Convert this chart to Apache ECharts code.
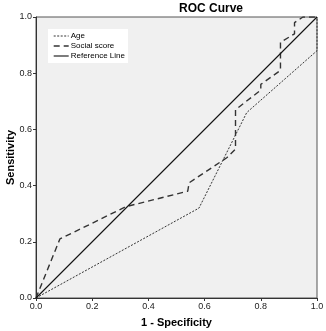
<!DOCTYPE html>
<html><head><meta charset="utf-8">
<script src="https://cdn.jsdelivr.net/npm/echarts@6/dist/echarts.min.js"></script>
<style>html,body{margin:0;padding:0;background:#fff}#c{width:326px;height:331px}</style>
</head><body><div id="c"></div>
<script>
var title = 'ROC Curve';
var xName = '1 - Specificity';
var yName = 'Sensitivity';
var ticks = [0, 0.2, 0.4, 0.6, 0.8, 1.0];
var ageX = [0, 0.58, 0.75, 1.0, 1.0];
var ageY = [0, 0.32, 0.66, 0.88, 1.0];
var socialX = [0, 0.085, 0.32, 0.54, 0.545, 0.68, 0.71, 0.71, 0.80, 0.80, 0.87, 0.87, 0.92, 0.92, 0.95, 1.0];
var socialY = [0, 0.21, 0.325, 0.38, 0.41, 0.50, 0.53, 0.67, 0.74, 0.76, 0.81, 0.91, 0.94, 0.98, 1.0, 1.0];
var refX = [0, 1];
var refY = [0, 1];
function pairs(xs, ys){ return xs.map(function(x,i){ return [x, ys[i]]; }); }

var ageLine = {color: '#333', width: 1, type: [2, 1.5]};
var socialLine = {color: '#333', width: 1.4, type: [6, 4]};
var refLine = {color: '#111', width: 1.1, type: 'solid'};

var chart = echarts.init(document.getElementById('c'), null, {renderer:'canvas'});
var fontFam = 'Liberation Sans, Arial, sans-serif';
chart.setOption({
  animation: false,
  backgroundColor: '#fff',
  textStyle: {fontFamily: fontFam},
  title: {text: title, left: 179, top: 3, padding: 0, textStyle: {fontSize: 12, fontWeight: 'bold', color: '#000', fontFamily: fontFam}},
  grid: {left: 36, right: 9, top: 17, bottom: 33, outerBoundsMode: 'none', containLabel: false,
         show: true, backgroundColor: '#f0f0f0', borderColor: '#555', borderWidth: 1},
  legend: {
    orient: 'vertical', left: 48, top: 29, backgroundColor: '#fff',
    padding: [3, 3, 3, 5], itemWidth: 15, itemHeight: 8, itemGap: 2,
    itemStyle: {opacity: 0, borderWidth: 0},
    textStyle: {fontSize: 8, color: '#000', fontFamily: fontFam, padding: [0,0,0,-3]},
    data: [
      {name: 'Age', lineStyle: ageLine},
      {name: 'Social score', lineStyle: socialLine},
      {name: 'Reference Line', lineStyle: refLine}
    ]
  },
  xAxis: {
    type: 'value', min: 0, max: 1, interval: 0.2,
    name: xName, nameLocation: 'middle', nameGap: 19, nameMoveOverlap: false,
    nameTextStyle: {fontSize: 11, fontWeight: 'bold', color: '#000'},
    axisLine: {show: true, lineStyle: {color: '#333'}},
    axisTick: {show: true, length: 3, lineStyle: {color: '#333'}},
    axisLabel: {fontSize: 9, color: '#222', margin: 4, formatter: function(v){ return v.toFixed(1); }},
    splitLine: {show: false}
  },
  yAxis: {
    type: 'value', min: 0, max: 1, interval: 0.2,
    name: yName, nameLocation: 'middle', nameGap: 20, nameMoveOverlap: false,
    nameTextStyle: {fontSize: 11, fontWeight: 'bold', color: '#000'},
    axisLine: {show: true, lineStyle: {color: '#333'}},
    axisTick: {show: true, length: 3, lineStyle: {color: '#333'}},
    axisLabel: {fontSize: 9, color: '#222', margin: 4, formatter: function(v){ return v.toFixed(1); }},
    splitLine: {show: false}
  },
  series: [
    {name: 'Age', type: 'line', data: pairs(ageX, ageY), symbol: 'none', z: 3,
     lineStyle: ageLine, itemStyle: {color: '#333'}},
    {name: 'Social score', type: 'line', data: pairs(socialX, socialY), symbol: 'none', z: 4,
     lineStyle: socialLine, itemStyle: {color: '#333'}},
    {name: 'Reference Line', type: 'line', data: pairs(refX, refY), symbol: 'none', z: 5,
     lineStyle: refLine, itemStyle: {color: '#111'}}
  ]
});
</script></body></html>
